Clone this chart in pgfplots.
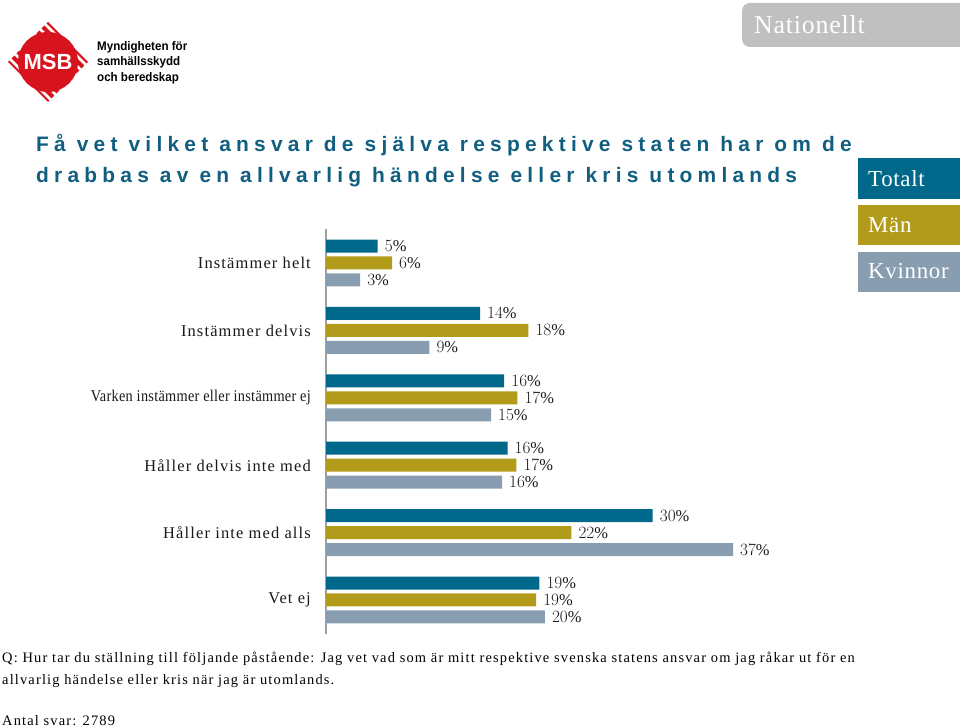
\documentclass[border=0pt]{standalone}
\usepackage{pgfplots}
\pgfplotsset{compat=1.18}
\usepackage{pgfplotstable}
\usepackage{graphicx}
\usepackage{fontspec}
\setmainfont{Liberation Serif}
\newfontfamily\lblfont[LetterSpace=7]{Liberation Serif}
\newfontfamily\lblplain[LetterSpace=2]{Liberation Serif}
\newfontfamily\notefont[LetterSpace=8]{Liberation Serif}
\newfontfamily\boxfont[LetterSpace=3]{Liberation Serif}
\newfontfamily\titlefont[LetterSpace=25]{Liberation Sans}
\newfontfamily\logofont{Liberation Sans}
\definecolor{cTot}{HTML}{00688B}
\definecolor{cMan}{HTML}{B29B1A}
\definecolor{cKvi}{HTML}{889EB0}
\definecolor{titlecol}{HTML}{115F80}
\definecolor{axisgray}{HTML}{A0A0A0}
\definecolor{boxgray}{HTML}{C0C0C0}
\definecolor{msbred}{HTML}{D7141E}

\pgfplotstableread{
cat tot totl man manl kvi kvil
0 4.7  5  6.0  6  3.1  3
1 14.0 14 18.4 18 9.4  9
2 16.2 16 17.4 17 15.0 15
3 16.5 16 17.3 17 16.0 16
4 29.7 30 22.3 22 37.0 37
5 19.4 19 19.1 19 19.9 20
}\data

\newcommand{\lblsize}{\lblfont\fontsize{16.5}{20}\selectfont}

\begin{document}
\begin{tikzpicture}[x=1bp,y=1bp]
\useasboundingbox (0,0) rectangle (960,728);
\begin{scope}
\clip (0,0) rectangle (960,728);
% Nationellt box
\fill[boxgray, rounded corners=8bp] (742,728-3) rectangle (985,728-47);
\node[anchor=base west, inner sep=0pt, text=white, font=\boxfont\fontsize{26}{30}\selectfont] at (754,728-34) {Nationellt};
% legend boxes
\fill[cTot] (858,728-158) rectangle (970,728-199);
\fill[cMan] (858,728-205) rectangle (970,728-245);
\fill[cKvi] (858,728-252) rectangle (970,728-292);
\node[anchor=base west, inner sep=0pt, text=white, font=\boxfont\fontsize{23}{27}\selectfont] at (868,728-187) {Totalt};
\node[anchor=base west, inner sep=0pt, text=white, font=\boxfont\fontsize{23}{27}\selectfont] at (868,728-233) {Män};
\node[anchor=base west, inner sep=0pt, text=white, font=\boxfont\fontsize{23}{27}\selectfont] at (868,728-279) {Kvinnor};
% logo
\begin{scope}
\clip (48,728-22) -- (88,728-62) -- (48,728-102) -- (8,728-62) -- cycle;
\foreach \k in {-8,...,8} {
  \draw[msbred, line width=4bp] (48+\k*5-60,666+\k*5+60) -- (48+\k*5+60,666+\k*5-60);
}
\end{scope}
\fill[msbred] (48,666) circle (30);
\node[text=white, inner sep=0pt, font=\logofont\bfseries\fontsize{22}{24}\selectfont] at (48,666) {MSB};
\end{scope}
\node[anchor=base west, inner sep=0pt, font=\logofont\bfseries\fontsize{12.5}{14}\selectfont, xscale=0.93] at (97,728-50.5) {Myndigheten för};
\node[anchor=base west, inner sep=0pt, font=\logofont\bfseries\fontsize{12.5}{14}\selectfont, xscale=0.93] at (97,728-66) {samhällsskydd};
\node[anchor=base west, inner sep=0pt, font=\logofont\bfseries\fontsize{12.5}{14}\selectfont, xscale=0.93] at (97,728-82) {och beredskap};
% title
\node[anchor=base west, inner sep=0pt, text=titlecol, font=\titlefont\bfseries\fontsize{21}{25}\selectfont] at (36,728-152) {Få vet vilket ansvar de själva respektive staten har om de};
\node[anchor=base west, inner sep=0pt, text=titlecol, font=\titlefont\bfseries\fontsize{21}{25}\selectfont] at (36,728-183) {drabbas av en allvarlig händelse eller kris utomlands};
% notes
\node[anchor=base west, inner sep=0pt, font=\notefont\fontsize{14.5}{17}\selectfont] at (2,728-663) {Q: Hur tar du ställning till följande påstående: Jag vet vad som är mitt respektive svenska statens ansvar om jag råkar ut för en};
\node[anchor=base west, inner sep=0pt, font=\notefont\fontsize{14.5}{17}\selectfont] at (2,728-685) {allvarlig händelse eller kris när jag är utomlands.};
\node[anchor=base west, inner sep=0pt, font=\notefont\fontsize{14.5}{17}\selectfont] at (2,728-726) {Antal svar: 2789};

\begin{axis}[
  at={(326bp,498.7bp)}, anchor=north west,
  scale only axis, width=550bp, height=404.4bp,
  xmin=0, xmax=50, ymin=-0.5, ymax=5.5, y dir=reverse,
  xbar, bar width=0.193,
  axis x line=none, axis y line*=left,
  y axis line style={draw=axisgray, line width=1.5bp, -},
  ytick={0,...,5},
  yticklabels={Instämmer helt, Instämmer delvis, {\scalebox{0.87}[1]{\lblplain\fontsize{16.5}{20}\selectfont Varken instämmer eller instämmer ej}}, Håller delvis inte med, Håller inte med alls, Vet ej},
  major tick length=0pt, ytick style={draw=none},
  yticklabel style={font=\lblsize, text=black!90, anchor=east, inner sep=0pt, xshift=-15bp},
  point meta=explicit,
  nodes near coords={\pgfmathprintnumber[fixed,precision=0]{\pgfplotspointmeta}\%},
  nodes near coords style={font=\lblsize, text=black!90, anchor=west, inner sep=0pt, xshift=7bp},
  clip=false,
]
\addplot[fill=cTot, draw=none, bar shift=-0.252] table[x=tot, y=cat, meta=totl] {\data};
\addplot[fill=cMan, draw=none, bar shift=0] table[x=man, y=cat, meta=manl] {\data};
\addplot[fill=cKvi, draw=none, bar shift=0.252] table[x=kvi, y=cat, meta=kvil] {\data};
\end{axis}
\end{tikzpicture}
\end{document}
